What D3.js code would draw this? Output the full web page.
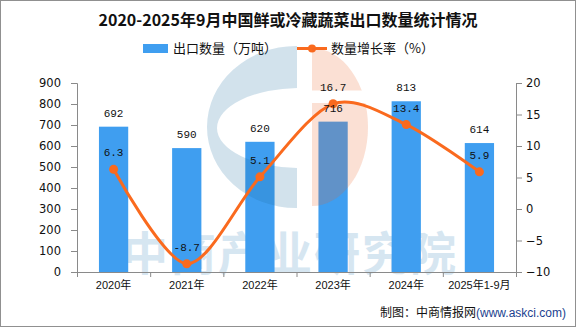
<!DOCTYPE html>
<html>
<head>
<meta charset="utf-8">
<script src="https://cdn.jsdelivr.net/npm/d3@7"></script>
<style>
  html, body { margin: 0; padding: 0; background: #fff; }
  svg { display: block; font-family: "Liberation Sans", "Noto Sans CJK SC", sans-serif; }
</style>
</head>
<body>
<svg id="chart"></svg>
<script>
// data
const years = ["2020年", "2021年", "2022年", "2023年", "2024年", "2025年1-9月"];
const exportVolume = [692, 590, 620, 716, 813, 614];   // 万吨
const growthRate = [6.3, -8.7, 5.1, 16.7, 13.4, 5.9];  // %
const leftTicks = [0, 100, 200, 300, 400, 500, 600, 700, 800, 900];
const rightTicks = [-10, -5, 0, 5, 10, 15, 20];

const width = 576;
const height = 327;
const margin = { top: 83, right: 60, bottom: 55, left: 77 };
const plotRight = width - margin.right;
const plotBottom = height - margin.bottom;

const svg = d3.select("#chart")
  .attr("width", width)
  .attr("height", height)
  .attr("viewBox", [0, 0, width, height]);

// outer frame
svg.append("rect")
  .attr("x", 0.5).attr("y", 0.5)
  .attr("width", width - 1).attr("height", height - 1)
  .attr("fill", "#fff")
  .attr("stroke", "#909090");

// scales
const x = d3.scaleBand()
  .domain(years)
  .range([margin.left, plotRight])
  .paddingInner(0.6)
  .paddingOuter(0.3);

const yLeft = d3.scaleLinear().domain([0, 900]).range([plotBottom, margin.top]);
const yRight = d3.scaleLinear().domain([-10, 20]).range([plotBottom, margin.top]);
const xEdges = d3.scaleLinear().domain([0, years.length]).range([margin.left, plotRight]);

// title
svg.append("text")
  .attr("x", 288)
  .attr("y", 26)
  .attr("text-anchor", "middle")
  .attr("font-family", "'Noto Sans CJK SC', sans-serif")
  .attr("font-weight", "bold")
  .attr("font-size", 16)
  .attr("fill", "#111")
  .text("2020-2025年9月中国鲜或冷藏蔬菜出口数量统计情况");

// legend
const legend = svg.append("g")
  .attr("font-family", "'Noto Sans CJK SC', sans-serif")
  .attr("font-size", 13)
  .attr("fill", "#111");

legend.append("rect")
  .attr("x", 143).attr("y", 44)
  .attr("width", 25).attr("height", 9)
  .attr("fill", "#3f9ef0");
legend.append("text")
  .attr("x", 173).attr("y", 53)
  .text("出口数量（万吨）");

legend.append("line")
  .attr("x1", 297).attr("x2", 327)
  .attr("y1", 48.5).attr("y2", 48.5)
  .attr("stroke", "#fa6a1e")
  .attr("stroke-width", 3);
legend.append("circle")
  .attr("cx", 312).attr("cy", 48.5).attr("r", 4)
  .attr("fill", "#fa6a1e");
legend.append("text")
  .attr("x", 331).attr("y", 53)
  .text("数量增长率（%）");

// watermark text behind bars
svg.append("text")
  .attr("x", 290)
  .attr("y", 270)
  .attr("text-anchor", "middle")
  .attr("font-family", "'Noto Sans CJK SC', sans-serif")
  .attr("font-weight", "bold")
  .attr("font-size", 46)
  .attr("letter-spacing", 2)
  .attr("fill", "#d6e6f1")
  .text("中商产业研究院");

// bars
svg.append("g")
  .selectAll("rect")
  .data(years)
  .join("rect")
  .attr("x", d => x(d))
  .attr("y", (d, i) => yLeft(exportVolume[i]))
  .attr("width", x.bandwidth())
  .attr("height", (d, i) => yLeft(0) - yLeft(exportVolume[i]))
  .attr("fill", "#3f9ef0");

// watermark logo on top of bars
const defs = svg.append("defs");
defs.append("clipPath").attr("id", "logo-left")
  .append("rect").attr("x", 180).attr("y", 40).attr("width", 117).attr("height", 180);
defs.append("clipPath").attr("id", "logo-right")
  .append("rect").attr("x", 312).attr("y", 40).attr("width", 80).attr("height", 180);

const ellipsePath = (cx, cy, rx, ry) =>
  `M${cx - rx},${cy}a${rx},${ry} 0 1,0 ${2 * rx},0a${rx},${ry} 0 1,0 ${-2 * rx},0Z`;

svg.append("path")
  .attr("clip-path", "url(#logo-left)")
  .attr("d", ellipsePath(296, 127, 89, 81) + ellipsePath(300, 128, 83, 40))
  .attr("fill-rule", "evenodd")
  .attr("fill", "rgb(30,110,160)")
  .attr("fill-opacity", 0.2);

const orangeMask = defs.append("mask").attr("id", "logo-gap");
orangeMask.append("rect").attr("x", 0).attr("y", 0).attr("width", width).attr("height", height).attr("fill", "#fff");
orangeMask.append("rect").attr("x", 300).attr("y", 90.5).attr("width", 100).attr("height", 12.5).attr("fill", "#000");

svg.append("path")
  .attr("clip-path", "url(#logo-right)")
  .attr("mask", "url(#logo-gap)")
  .attr("d", ellipsePath(312, 127, 56, 79))
  .attr("fill", "rgb(235,100,40)")
  .attr("fill-opacity", 0.2);

// axes
const axisColor = "#8a8a8a";

const leftAxis = svg.append("g")
  .attr("transform", `translate(${margin.left},0)`)
  .call(d3.axisLeft(yLeft).tickValues(leftTicks).tickSize(6).tickPadding(10));

const rightAxis = svg.append("g")
  .attr("transform", `translate(${plotRight},0)`)
  .call(d3.axisRight(yRight).tickValues(rightTicks).tickSize(6).tickPadding(4)
    .tickFormat(d => d < 0 ? "\u2212" + Math.abs(d) : d));

const bottomEdges = svg.append("g")
  .attr("transform", `translate(0,${plotBottom})`)
  .call(d3.axisBottom(xEdges).tickValues(d3.range(years.length + 1)).tickSize(5).tickFormat(""));

const bottomLabels = svg.append("g")
  .attr("transform", `translate(0,${plotBottom})`)
  .call(d3.axisBottom(x).tickSize(0).tickPadding(9));
bottomLabels.select(".domain").remove();

[leftAxis, rightAxis, bottomEdges].forEach(g => {
  g.selectAll(".domain, .tick line").attr("stroke", axisColor);
});
[leftAxis, rightAxis].forEach(g => {
  g.selectAll("text").attr("fill", "#111")
    .attr("font-family", "'DejaVu Sans', sans-serif").attr("font-size", 11.5);
});
bottomLabels.selectAll("text")
  .attr("font-size", 11)
  .attr("fill", "#111")
  .attr("font-family", "'Liberation Sans', 'Noto Sans CJK SC', sans-serif");

// growth line
const line = d3.line()
  .x((d, i) => x(years[i]) + x.bandwidth() / 2)
  .y(d => yRight(d))
  .curve(d3.curveCardinal.tension(0.1));

svg.append("path")
  .datum(growthRate)
  .attr("d", line)
  .attr("fill", "none")
  .attr("stroke", "#fa6a1e")
  .attr("stroke-width", 3);

svg.append("g")
  .selectAll("circle")
  .data(growthRate)
  .join("circle")
  .attr("cx", (d, i) => x(years[i]) + x.bandwidth() / 2)
  .attr("cy", d => yRight(d))
  .attr("r", 4.5)
  .attr("fill", "#fa6a1e");

// value labels
const labelFont = "'Liberation Mono', 'DejaVu Sans Mono', monospace";

svg.append("g")
  .selectAll("text")
  .data(exportVolume)
  .join("text")
  .attr("x", (d, i) => x(years[i]) + x.bandwidth() / 2)
  .attr("y", d => yLeft(d) - 10)
  .attr("text-anchor", "middle")
  .attr("font-family", labelFont)
  .attr("font-size", 11)
  .attr("fill", "#111")
  .text(d => d);

svg.append("g")
  .selectAll("text")
  .data(growthRate)
  .join("text")
  .attr("x", (d, i) => x(years[i]) + x.bandwidth() / 2)
  .attr("y", d => yRight(d) - 13)
  .attr("text-anchor", "middle")
  .attr("font-family", labelFont)
  .attr("font-size", 11)
  .attr("fill", "#111")
  .text(d => d.toFixed(1));

// source note
const note = svg.append("text")
  .attr("x", 566)
  .attr("y", 317)
  .attr("text-anchor", "end")
  .attr("font-size", 12)
  .attr("font-family", "'Noto Sans CJK SC', sans-serif")
  .attr("fill", "#111");
note.append("tspan").text("制图：中商情报网");
note.append("tspan")
  .attr("font-family", "'Liberation Sans', sans-serif")
  .attr("fill", "#1b3f8f")
  .text("(www.askci.com)");
</script>
</body>
</html>
